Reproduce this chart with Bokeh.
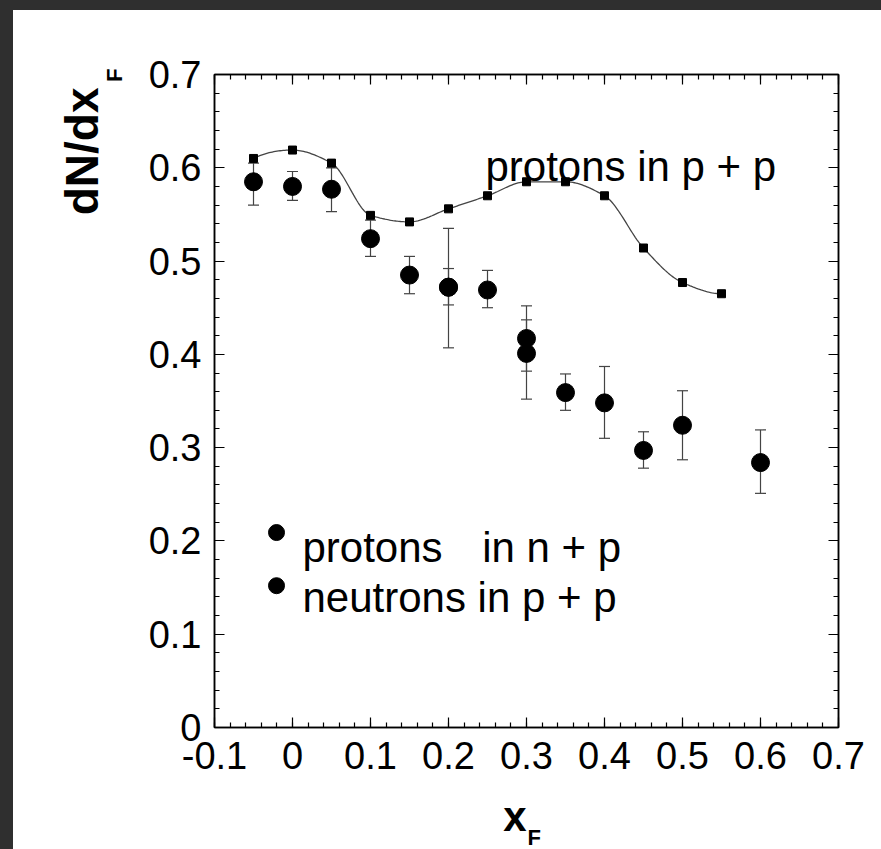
import numpy as np
from bokeh.plotting import figure
from bokeh.models import (ColumnDataSource, Whisker, TeeHead, Label, LinearAxis, Range1d,
                          FixedTicker, CustomJSTickFormatter, Title)
from bokeh.embed import file_html
from bokeh.resources import INLINE

# ---------------- data ----------------
# protons in p + p (squares joined by a smooth curve)
pp_x = [-0.05, 0.00, 0.05, 0.10, 0.15, 0.20, 0.25, 0.30, 0.35, 0.40, 0.45, 0.50, 0.55]
pp_y = [0.610, 0.619, 0.605, 0.549, 0.542, 0.556, 0.570, 0.585, 0.585, 0.570, 0.514, 0.477, 0.465]

# protons in n + p / neutrons in p + p (filled circles with error bars)
nn_x  = [-0.05, 0.00, 0.05, 0.10, 0.15, 0.20, 0.20, 0.25, 0.30, 0.30, 0.35, 0.40, 0.45, 0.50, 0.60]
nn_y  = [0.585, 0.580, 0.577, 0.524, 0.485, 0.472, 0.472, 0.469, 0.417, 0.401, 0.359, 0.348, 0.297, 0.324, 0.284]
nn_hi = [0.605, 0.596, 0.600, 0.544, 0.505, 0.492, 0.535, 0.490, 0.452, 0.437, 0.379, 0.387, 0.317, 0.361, 0.319]
nn_lo = [0.560, 0.565, 0.553, 0.505, 0.465, 0.453, 0.407, 0.450, 0.382, 0.352, 0.340, 0.310, 0.278, 0.287, 0.251]

x_ticks = [-0.1, 0.0, 0.1, 0.2, 0.3, 0.4, 0.5, 0.6, 0.7]
y_ticks = [0.0, 0.1, 0.2, 0.3, 0.4, 0.5, 0.6, 0.7]

legend_row1 = ("protons", "in n + p")
legend_row2 = "neutrons in p + p"
curve_label = "protons in p + p"


# ---------------- smooth curve (monotone cubic through the squares) ----------------
def pchip(x, y, xs):
    x = np.asarray(x, float)
    y = np.asarray(y, float)
    h = np.diff(x)
    d = np.diff(y) / h
    n = len(x)
    m = np.zeros(n)
    for k in range(1, n - 1):
        if d[k - 1] * d[k] > 0:
            w1 = 2 * h[k] + h[k - 1]
            w2 = h[k] + 2 * h[k - 1]
            m[k] = (w1 + w2) / (w1 / d[k - 1] + w2 / d[k])

    def end(h0, h1, d0, d1):
        v = ((2 * h0 + h1) * d0 - h0 * d1) / (h0 + h1)
        if np.sign(v) != np.sign(d0):
            return 0.0
        if np.sign(d0) != np.sign(d1) and abs(v) > abs(3 * d0):
            return 3 * d0
        return v

    m[0] = end(h[0], h[1], d[0], d[1])
    m[-1] = end(h[-1], h[-2], d[-1], d[-2])
    out = np.empty_like(xs)
    idx = np.clip(np.searchsorted(x, xs) - 1, 0, n - 2)
    for j, (xv, k) in enumerate(zip(xs, idx)):
        t = (xv - x[k]) / h[k]
        h00 = 2 * t**3 - 3 * t**2 + 1
        h10 = t**3 - 2 * t**2 + t
        h01 = -2 * t**3 + 3 * t**2
        h11 = t**3 - t**2
        out[j] = h00 * y[k] + h10 * h[k] * m[k] + h01 * y[k + 1] + h11 * h[k] * m[k + 1]
    return out


xs = np.linspace(pp_x[0], pp_x[-1], 300)
ys = pchip(pp_x, pp_y, xs)

FONT = "Liberation Sans"

p = figure(width=881, height=849, x_range=Range1d(-0.1, 0.7), y_range=Range1d(0, 0.7),
           output_backend="svg", toolbar_location=None,
           min_border_left=214, min_border_right=43, min_border_top=74, min_border_bottom=122,
           background_fill_color="white", border_fill_color=None,
           outline_line_color="black", outline_line_width=1.5)
p.styles = {
    "background": "linear-gradient(to right, #2f2f2f 0px, #2f2f2f 13px, rgba(0,0,0,0) 13px), "
                  "linear-gradient(to bottom, #2f2f2f 0px, #2f2f2f 10px, #ffffff 10px)"
}
p.grid.visible = False

fmt = CustomJSTickFormatter(code="return Math.abs(tick) < 1e-9 ? '0' : tick.toFixed(1);")


def style_axis(ax, show_labels):
    ax.axis_line_color = "black"
    ax.axis_line_width = 1.5
    ax.major_tick_in = 10
    ax.major_tick_out = 0
    ax.minor_tick_in = 5
    ax.minor_tick_out = 0
    ax.major_tick_line_color = "black"
    ax.minor_tick_line_color = "black"
    ax.major_tick_line_width = 1.2
    ax.minor_tick_line_width = 1.2
    ax.formatter = fmt
    if show_labels:
        ax.major_label_text_font = FONT
        ax.major_label_text_font_size = "38px"
        ax.major_label_text_color = "black"
    else:
        ax.major_label_text_font_size = "0px"


xt = FixedTicker(ticks=x_ticks, minor_ticks=list(np.round(np.arange(-0.1, 0.7001, 0.02), 3)))
yt = FixedTicker(ticks=y_ticks, minor_ticks=list(np.round(np.arange(0.0, 0.7001, 0.02), 3)))

p.xaxis[0].ticker = xt
p.yaxis[0].ticker = yt
style_axis(p.xaxis[0], True)
style_axis(p.yaxis[0], True)
p.xaxis[0].major_label_standoff = 14
p.yaxis[0].major_label_standoff = 13

# x-axis title "x" (subscript F added below as a title)
p.xaxis[0].axis_label = "x\u00a0\u00a0"
p.xaxis[0].axis_label_standoff = 21
p.xaxis[0].axis_label_text_font = FONT
p.xaxis[0].axis_label_text_font_size = "42px"
p.xaxis[0].axis_label_text_font_style = "bold"
p.xaxis[0].axis_label_text_color = "black"

top_ax = LinearAxis(ticker=FixedTicker(ticks=x_ticks, minor_ticks=xt.minor_ticks))
right_ax = LinearAxis(ticker=FixedTicker(ticks=y_ticks, minor_ticks=yt.minor_ticks))
style_axis(top_ax, False)
style_axis(right_ax, False)
p.add_layout(top_ax, "above")
p.add_layout(right_ax, "right")

# y-axis title dN/dx with subscript F
p.add_layout(Title(text="F", align="right", offset=-6, vertical_align="top", standoff=34,
                   text_font=FONT, text_font_size="22px", text_font_style="bold",
                   text_color="black"), "left")
p.add_layout(Title(text="dN/dx", align="right", offset=13, vertical_align="bottom", standoff=-46,
                   text_font=FONT, text_font_size="46px", text_font_style="bold",
                   text_color="black"), "left")
# subscript F of x_F
p.add_layout(Title(text="F", align="left", offset=313, vertical_align="top", standoff=-36,
                   text_font=FONT, text_font_size="22px", text_font_style="bold",
                   text_color="black"), "below")

# error bars
src = ColumnDataSource(dict(x=nn_x, y=nn_y, hi=nn_hi, lo=nn_lo))
wh = Whisker(base="x", upper="hi", lower="lo", source=src, line_color="#444444", line_width=1.2,
             upper_head=TeeHead(size=11, line_color="#444444", line_width=1.2),
             lower_head=TeeHead(size=11, line_color="#444444", line_width=1.2))
p.add_layout(wh)

# curve and squares
p.line(xs, ys, line_color="#444444", line_width=1.3)
p.scatter(pp_x, pp_y, marker="square", size=8, fill_color="black", line_color="black")

# circles
p.scatter("x", "y", source=src, marker="circle", size=18, fill_color="black", line_color="black")

# curve label
p.add_layout(Label(x=0.2474, y=0.601, text=curve_label, text_font=FONT, text_font_size="42px",
                   text_color="black", text_baseline="alphabetic", text_align="left"))

# legend bullets and texts
leg_bullet_x = [-0.0205, -0.0205]
leg_bullet_y = [0.209, 0.152]
p.scatter(leg_bullet_x, leg_bullet_y, marker="circle", size=16, fill_color="black", line_color="black")
p.add_layout(Label(x=0.0128, y=0.193, text=legend_row1[0], text_font=FONT, text_font_size="42px",
                   text_color="black", text_baseline="alphabetic", text_align="left"))
p.add_layout(Label(x=0.2432, y=0.193, text=legend_row1[1], text_font=FONT, text_font_size="42px",
                   text_color="black", text_baseline="alphabetic", text_align="left"))
p.add_layout(Label(x=0.0128, y=0.139, text=legend_row2, text_font=FONT, text_font_size="42px",
                   text_color="black", text_baseline="alphabetic", text_align="left"))

html = file_html(p, INLINE)
html = html.replace("</head>",
                    "<style>html,body{margin:0;padding:0;overflow:hidden;background:#ffffff;}</style></head>", 1)
open("out.html", "w").write(html)
